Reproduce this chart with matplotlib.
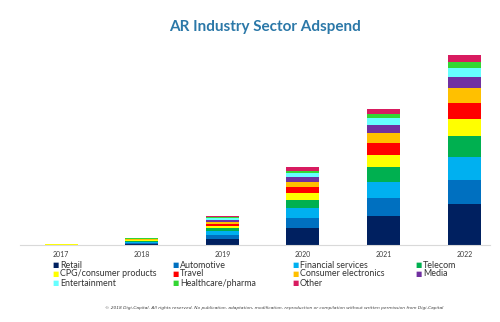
import numpy as np
import matplotlib
matplotlib.use("Agg")
import matplotlib.pyplot as plt

# Values (arbitrary units, stacked bottom to top)
years = ["2017", "2018", "2019", "2020", "2021", "2022"]
sectors = ["Retail", "Automotive", "Financial services", "Telecom",
           "CPG/consumer products", "Travel", "Consumer electronics", "Media",
           "Entertainment", "Healthcare/pharma", "Other"]
colors = ["#002060", "#0070c0", "#00b0f0", "#00b050",
          "#ffff00", "#ff0000", "#ffc000", "#7030a0",
          "#66ffff", "#33d633", "#d81b60"]
retail = [0.2, 1.5, 6.2, 16.7, 29.0, 40.7]
automotive = [0.12, 0.9, 3.7, 10.0, 17.7, 24.3]
financial = [0.12, 0.9, 3.7, 10.0, 16.7, 23.3]
telecom = [0.1, 0.8, 3.1, 8.3, 15.0, 21.0]
cpg = [0.08, 0.6, 2.5, 6.7, 11.7, 16.7]
travel = [0.08, 0.55, 2.2, 6.0, 11.7, 16.3]
consumer_elec = [0.07, 0.5, 2.1, 5.7, 10.0, 14.3]
media = [0.06, 0.45, 1.9, 5.0, 8.3, 11.0]
entertainment = [0.04, 0.3, 1.2, 3.3, 6.7, 9.0]
healthcare = [0.04, 0.25, 1.0, 2.7, 4.3, 6.0]
other = [0.04, 0.3, 1.2, 3.3, 5.0, 7.3]
series = [retail, automotive, financial, telecom, cpg, travel,
          consumer_elec, media, entertainment, healthcare, other]

fig = plt.figure(figsize=(5, 3.22), dpi=100)
ax = fig.add_axes([0.04, 0.239, 0.94, 0.621])

x = np.arange(len(years))
bottom = np.zeros(len(years))
for vals, col in zip(series, colors):
    ax.bar(x, vals, width=0.41, bottom=bottom, color=col, linewidth=0)
    bottom += np.array(vals)

ax.set_xlim(-0.51, 5.32)
ax.set_ylim(0, 200)
ax.set_xticks(x)
ax.set_xticklabels(years, fontsize=5, color="#404040", family="Lato")
ax.tick_params(axis="x", length=0, pad=4.5)
ax.set_yticks([])
for s in ["top", "right", "left"]:
    ax.spines[s].set_visible(False)
ax.spines["bottom"].set_color("#d9d9d9")
ax.spines["bottom"].set_linewidth(0.8)

fig.text(0.53, 0.915, "AR Industry Sector Adspend", ha="center", va="center",
         fontsize=11, color="#2b78a8", family="Lato", weight="bold")

# legend laid out in 4 columns x 3 rows
col_x = [56, 176, 296, 419]
row_y = [265, 274, 283]
for i, (name, col) in enumerate(zip(sectors, colors)):
    cx = col_x[i % 4]
    cy = row_y[i // 4]
    fig.text(cx / 500, 1 - cy / 322, "\u25a0", color=col, fontsize=4.8,
             ha="center", va="center", family="DejaVu Sans")
    fig.text((cx + 4) / 500, 1 - cy / 322, name, color="#333333", fontsize=6.4,
             ha="left", va="center", family="Lato")

fig.text(105 / 500, 1 - 308 / 322,
         "\u00a9 2018 Digi-Capital. All rights reserved. No publication, adaptation, "
         "modification, reproduction or compilation without written permission from Digi-Capital",
         fontsize=3.2, style="italic", color="#404040", ha="left", va="center")

fig.savefig("out.png", dpi=100, facecolor="white")
